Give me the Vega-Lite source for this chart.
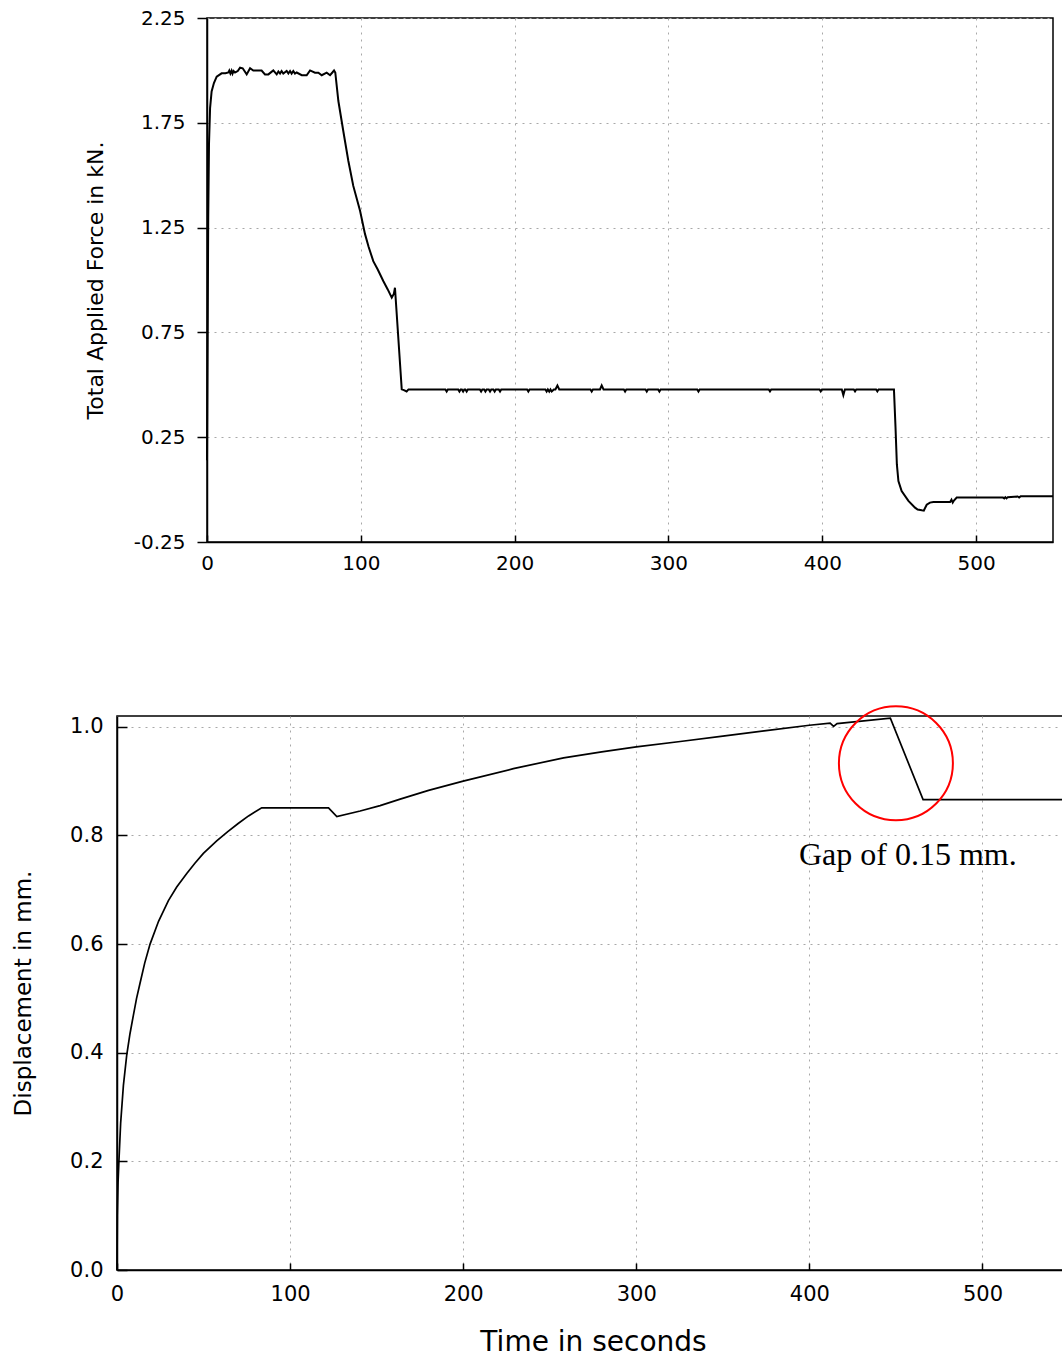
{
 "$schema": "https://vega.github.io/schema/vega-lite/v6.json",
 "padding": {"left": 11, "top": 7, "right": 0, "bottom": 0},
 "spacing": 127,
 "config": {
  "view": {"stroke": "black", "strokeWidth": 1.5},
  "axis": {
   "domainColor": "black", "domainWidth": 1.5, "tickColor": "black", "tickWidth": 1.5,
   "labelColor": "black", "titleColor": "black", "labelFont": "DejaVu Sans", "titleFont": "DejaVu Sans",
   "titleFontWeight": "normal", "gridColor": "#a8a8a8", "gridDash": [2, 5], "gridWidth": 1,
   "labelFlush": false, "labelOverlap": false
  }
 },
 "datasets": {
  "force": [
   {"t":0,"f":0.14},{"t":0.4,"f":0.7},{"t":0.8,"f":1.3},{"t":1.3,"f":1.65},{"t":2,"f":1.82},{"t":3,"f":1.9},{"t":4.5,"f":1.94},{"t":6.3,"f":1.97},{"t":9.5,"f":1.986},{"t":12,"f":1.986},{"t":13.9,"f":1.99},{"t":14.5,"f":1.999},{"t":15.2,"f":1.985},{"t":16,"f":1.999},{"t":16.6,"f":1.985},{"t":17.3,"f":1.997},{"t":18.2,"f":1.99},{"t":20,"f":1.997},{"t":21.5,"f":2.013},{"t":23.2,"f":2.01},{"t":25.8,"f":1.981},{"t":28,"f":2.01},{"t":30.1,"f":1.999},{"t":35.5,"f":1.999},{"t":37.7,"f":1.981},{"t":39.9,"f":1.981},{"t":43.1,"f":2.0},{"t":45.3,"f":1.981},{"t":46.4,"f":1.995},{"t":47.5,"f":1.985},{"t":48.5,"f":1.997},{"t":49.6,"f":1.985},{"t":51.8,"f":1.997},{"t":52.9,"f":1.985},{"t":54,"f":1.997},{"t":55,"f":1.985},{"t":56.1,"f":1.997},{"t":57.2,"f":1.985},{"t":58.3,"f":1.99},{"t":61.6,"f":1.977},{"t":64.8,"f":1.977},{"t":67,"f":2.0},{"t":70.2,"f":1.989},{"t":72.4,"f":1.989},{"t":74.6,"f":1.977},{"t":77.8,"f":1.989},{"t":80,"f":1.977},{"t":81.5,"f":1.99},{"t":82.6,"f":2.0},{"t":83.4,"f":1.99},{"t":85.4,"f":1.854},{"t":88.6,"f":1.711},{"t":91.9,"f":1.568},{"t":95.1,"f":1.449},{"t":99.5,"f":1.33},{"t":102.7,"f":1.22},{"t":105,"f":1.16},{"t":108.1,"f":1.09},{"t":111,"f":1.05},{"t":114.6,"f":0.995},{"t":117.5,"f":0.955},{"t":120.1,"f":0.916},{"t":121.5,"f":0.935},{"t":122.2,"f":0.963},{"t":126.6,"f":0.479},{"t":128,"f":0.475},{"t":129.8,"f":0.468},{"t":131,"f":0.478},
   {"t":155,"f":0.478},{"t":155.8,"f":0.468},{"t":156.6,"f":0.478},{"t":163.3,"f":0.478},{"t":164.1,"f":0.468},{"t":164.9,"f":0.478},{"t":165.7,"f":0.478},{"t":166.5,"f":0.468},{"t":167.3,"f":0.478},{"t":168,"f":0.478},{"t":168.8,"f":0.468},{"t":169.6,"f":0.478},{"t":177.4,"f":0.478},{"t":178.2,"f":0.468},{"t":179,"f":0.478},{"t":180.2,"f":0.478},{"t":181,"f":0.468},{"t":181.8,"f":0.478},{"t":183.2,"f":0.478},{"t":184,"f":0.468},{"t":184.8,"f":0.478},{"t":186.2,"f":0.478},{"t":187,"f":0.468},{"t":187.8,"f":0.478},{"t":189.7,"f":0.478},{"t":190.5,"f":0.468},{"t":191.3,"f":0.478},{"t":208.1,"f":0.478},{"t":208.9,"f":0.468},{"t":209.7,"f":0.478},{"t":220,"f":0.478},{"t":220.8,"f":0.468},{"t":221.6,"f":0.478},{"t":222.5,"f":0.468},{"t":223.3,"f":0.478},{"t":224.1,"f":0.468},{"t":225.5,"f":0.478},{"t":226.5,"f":0.478},{"t":227.8,"f":0.497},{"t":229,"f":0.478},{"t":249.3,"f":0.478},{"t":250.1,"f":0.468},{"t":250.9,"f":0.478},{"t":255.5,"f":0.478},{"t":256.6,"f":0.497},{"t":257.8,"f":0.478},{"t":271,"f":0.478},{"t":271.8,"f":0.468},{"t":272.6,"f":0.478},{"t":285.1,"f":0.478},{"t":285.9,"f":0.468},{"t":286.7,"f":0.478},{"t":293.3,"f":0.478},{"t":294.1,"f":0.468},{"t":294.9,"f":0.478},{"t":318.7,"f":0.478},{"t":319.5,"f":0.468},{"t":320.3,"f":0.478},{"t":365.2,"f":0.478},{"t":366,"f":0.469},{"t":366.8,"f":0.478},{"t":398.2,"f":0.478},{"t":399,"f":0.469},{"t":399.8,"f":0.478},{"t":412.7,"f":0.478},{"t":413.7,"f":0.451},{"t":414.7,"f":0.478},{"t":420.5,"f":0.478},{"t":421.3,"f":0.469},{"t":422.1,"f":0.478},{"t":435,"f":0.478},{"t":435.8,"f":0.469},{"t":436.6,"f":0.478},{"t":446.6,"f":0.478},{"t":447.6,"f":0.3},{"t":448.5,"f":0.12},{"t":449.5,"f":0.041},{"t":451.6,"f":-0.007},{"t":456,"f":-0.054},{"t":460.3,"f":-0.086},{"t":462,"f":-0.095},{"t":464.7,"f":-0.099},{"t":466,"f":-0.1},{"t":467.9,"f":-0.072},{"t":470,"f":-0.062},{"t":472.2,"f":-0.059},{"t":483.1,"f":-0.059},{"t":484,"f":-0.048},{"t":484.8,"f":-0.062},{"t":485.6,"f":-0.052},{"t":487.4,"f":-0.038},{"t":517.5,"f":-0.038},{"t":518.3,"f":-0.042},{"t":519,"f":-0.036},{"t":519.8,"f":-0.042},{"t":520.6,"f":-0.036},{"t":527,"f":-0.033},{"t":528,"f":-0.038},{"t":529,"f":-0.032},{"t":550,"f":-0.032}
  ],
  "disp": [
   {"t":0,"d":0},{"t":0.2,"d":0.1},{"t":0.6,"d":0.16},{"t":1.1,"d":0.2},{"t":2.1,"d":0.27},{"t":3.7,"d":0.34},{"t":5.6,"d":0.395},{"t":7.5,"d":0.435},{"t":9.4,"d":0.468},{"t":11.3,"d":0.5},{"t":13.3,"d":0.528},{"t":16,"d":0.565},{"t":19.1,"d":0.6},{"t":24,"d":0.642},{"t":29.7,"d":0.68},{"t":34.5,"d":0.705},{"t":40.3,"d":0.73},{"t":45,"d":0.749},{"t":49.9,"d":0.767},{"t":57.6,"d":0.79},{"t":64,"d":0.807},{"t":70,"d":0.822},{"t":76,"d":0.836},{"t":83.6,"d":0.851},{"t":122.2,"d":0.851},{"t":127,"d":0.835},{"t":140.5,"d":0.845},{"t":152,"d":0.855},{"t":163.6,"d":0.867},{"t":180,"d":0.883},{"t":200,"d":0.9},{"t":229,"d":0.923},{"t":258,"d":0.943},{"t":280,"d":0.954},{"t":300,"d":0.963},{"t":325.4,"d":0.973},{"t":350,"d":0.983},{"t":375,"d":0.993},{"t":400,"d":1.003},{"t":412,"d":1.007},{"t":414,"d":1.001},{"t":416,"d":1.006},{"t":446.8,"d":1.016},{"t":465.7,"d":0.866},{"t":550,"d":0.866}
  ]
 },
 "vconcat": [
  {
   "hconcat": [
    {"width": 90, "height": 10, "data": {"values": []}, "mark": "point", "view": {"stroke": null}},
    {
     "width": 846, "height": 524,
     "data": {"name": "force"},
     "mark": {"type": "line", "color": "black", "strokeWidth": 2},
     "encoding": {
      "x": {"field": "t", "type": "quantitative",
            "scale": {"domain": [0, 550], "nice": false, "zero": false},
            "axis": {"title": null, "values": [0, 100, 200, 300, 400, 500], "tickSize": -7, "labelPadding": 18, "labelFontSize": 20, "grid": true}},
      "y": {"field": "f", "type": "quantitative",
            "scale": {"domain": [-0.25, 2.25], "nice": false, "zero": false},
            "axis": {"title": "Total Applied Force in kN.", "values": [-0.25, 0.25, 0.75, 1.25, 1.75, 2.25], "format": ".2f", "labelExpr": "replace(datum.label, '−', '-')", "tickSize": 10, "labelPadding": 12, "labelFontSize": 20, "titleFontSize": 22, "titlePadding": 26, "grid": true}}
     }
    }
   ],
   "spacing": 0,
   "bounds": "flush"
  },
  {
   "width": 952, "height": 554,
   "layer": [
    {
     "data": {"name": "disp"},
     "mark": {"type": "line", "color": "black", "strokeWidth": 1.7},
     "encoding": {
      "x": {"field": "t", "type": "quantitative",
            "scale": {"domain": [0, 550], "nice": false, "zero": false},
            "axis": {"title": "Time in seconds", "values": [0, 100, 200, 300, 400, 500], "tickSize": -7, "labelPadding": 20, "labelFontSize": 21, "titleFontSize": 28, "titlePadding": 24, "grid": true}},
      "y": {"field": "d", "type": "quantitative",
            "scale": {"domain": [0, 1.02], "nice": false, "zero": false},
            "axis": {"title": "Displacement in mm.", "values": [0, 0.2, 0.4, 0.6, 0.8, 1.0], "format": ".1f", "tickSize": -10, "labelPadding": 24, "labelFontSize": 21, "titleFontSize": 23, "titlePadding": 34, "grid": true}}
     }
    },
    {
     "data": {"values": [{"t": 450, "d": 0.933}]},
     "mark": {"type": "point", "shape": "circle", "size": 12996, "filled": false, "color": "#ff0000", "strokeWidth": 2, "opacity": 1},
     "encoding": {
      "x": {"field": "t", "type": "quantitative"},
      "y": {"field": "d", "type": "quantitative"}
     }
    },
    {
     "data": {"values": [{"t": 394, "d": 0.745, "label": "Gap of 0.15 mm."}]},
     "mark": {"type": "text", "font": "Liberation Serif", "fontSize": 32, "align": "left", "baseline": "alphabetic", "color": "black"},
     "encoding": {
      "x": {"field": "t", "type": "quantitative"},
      "y": {"field": "d", "type": "quantitative"},
      "text": {"field": "label"}
     }
    }
   ]
  }
 ]
}
